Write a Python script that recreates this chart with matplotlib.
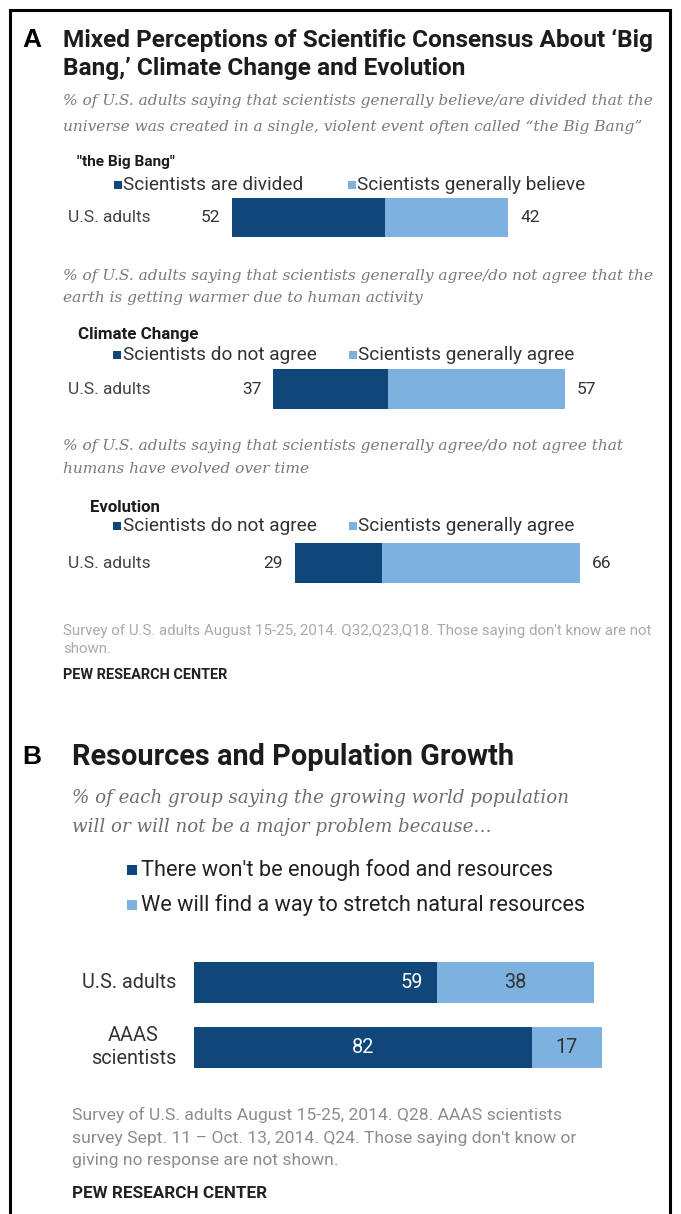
import matplotlib
matplotlib.use("Agg")
import matplotlib.pyplot as plt
from matplotlib.patches import Rectangle
from matplotlib.lines import Line2D

# ---------------- data ----------------
a_group = "U.S. adults"

bigbang_title = "\"the Big Bang\""
bigbang_series = ["Scientists are divided", "Scientists generally believe"]
bigbang_divided = 52
bigbang_believe = 42

climate_title = "Climate Change"
climate_series = ["Scientists do not agree", "Scientists generally agree"]
climate_disagree = 37
climate_agree = 57

evolution_title = "Evolution"
evolution_series = ["Scientists do not agree", "Scientists generally agree"]
evolution_disagree = 29
evolution_agree = 66

b_groups = ["U.S. adults", "AAAS\nscientists"]
b_series = ["There won't be enough food and resources",
            "We will find a way to stretch natural resources"]
b_not_enough = [59, 82]
b_stretch = [38, 17]

# ---------------- style ----------------
W, H = 681, 1214
DARK = "#10477a"
LIGHT = "#7db2e0"
SANS = "Roboto"
SERIF = "DejaVu Serif"
LETTER = "Liberation Sans"

fig = plt.figure(figsize=(W / 100, H / 100), dpi=100)
fig.patch.set_facecolor("white")
R = fig.canvas.get_renderer()


def fx(x):
    return x / W


def fy(y):
    return 1 - y / H


def put(x, y, s, size=10, width=None, **kw):
    kw.setdefault("va", "center")
    t = fig.text(fx(x), fy(y), s, fontsize=size, **kw)
    if width:
        w = t.get_window_extent(renderer=R).width
        t.set_fontsize(size * width / w)
    return t


def para(x, ys, lines, width, **kw):
    t0 = put(x, ys[0], lines[0], width=width, **kw)
    size = t0.get_fontsize()
    for y, s in zip(ys[1:], lines[1:]):
        put(x, y, s, size=size, **kw)
    return size


def square(x, y, color, side=8):
    fig.add_artist(Rectangle((fx(x), fy(y + side / 2)), side / W, side / H,
                             transform=fig.transFigure, color=color, lw=0))


# frame
for xs, ys in [((10, 10), (10, H + 5)), ((10, 670), (10, 10)), ((670, 670), (10, H + 5))]:
    fig.add_artist(Line2D([fx(v) for v in xs], [fy(v) for v in ys],
                          transform=fig.transFigure, color="black", lw=2.2))

# ---------------- panel A ----------------
put(22, 40, "A", size=19, family=LETTER, weight="bold", color="black")
para(63, [40, 68],
     ["Mixed Perceptions of Scientific Consensus About \u2018Big",
      "Bang,\u2019 Climate Change and Evolution"],
     width=592, family=SANS, weight="bold", color="#1c1c1c")

sub_kw = dict(family=SERIF, style="italic", color="#7a7a7a")
para(63, [101, 127],
     ["% of U.S. adults saying that scientists generally believe/are divided that the",
      "universe was created in a single, violent event often called \u201cthe Big Bang\u201d"],
     width=592, **sub_kw)
para(63, [276, 298],
     ["% of U.S. adults saying that scientists generally agree/do not agree that the",
      "earth is getting warmer due to human activity"],
     width=590, **sub_kw)
para(63, [446, 469],
     ["% of U.S. adults saying that scientists generally agree/do not agree that",
      "humans have evolved over time"],
     width=561, **sub_kw)

head_kw = dict(family=SANS, weight="bold", color="#1c1c1c")
put(77, 162, bigbang_title, width=98, **head_kw)
put(78, 334, climate_title, width=121, **head_kw)
put(90, 507, evolution_title, width=70, **head_kw)

leg_size = put(123, 185, bigbang_series[0], width=180, family=SANS, color="#333333").get_fontsize()
leg_kw = dict(size=leg_size, family=SANS, color="#333333")
square(114, 185, DARK)
put(357, 185, bigbang_series[1], **leg_kw)
square(348, 185, LIGHT)
for y, series in [(355, climate_series), (526, evolution_series)]:
    square(113, y, DARK)
    put(123, y, series[0], **leg_kw)
    square(349, y, LIGHT)
    put(358, y, series[1], **leg_kw)

lab_size = put(68, 218, a_group, width=82, family=SANS, color="#444444").get_fontsize()
put(68, 389, a_group, size=lab_size, family=SANS, color="#444444")
put(68, 563, a_group, size=lab_size, family=SANS, color="#444444")


def diverging(top, bottom, center, unit, left_val, right_val):
    L, Rp = 150, 630
    ax = fig.add_axes([fx(L), fy(bottom), (Rp - L) / W, (bottom - top) / H])
    ax.set_xlim((L - center) / unit, (Rp - center) / unit)
    ax.set_ylim(-0.5, 0.5)
    ax.barh(0, -left_val, height=1.0, color=DARK, lw=0)
    ax.barh(0, right_val, height=1.0, color=LIGHT, lw=0)
    ax.annotate(f"{left_val}", xy=(-left_val, 0), xytext=(-12, 0),
                textcoords="offset pixels", ha="right", va="center",
                fontsize=lab_size, family=SANS, color="#333333")
    ax.annotate(f"{right_val}", xy=(right_val, 0), xytext=(12, 0),
                textcoords="offset pixels", ha="left", va="center",
                fontsize=lab_size, family=SANS, color="#333333")
    ax.axis("off")


diverging(198, 237, 385, 2.94, bigbang_divided, bigbang_believe)
diverging(369, 409, 388, 3.1, climate_disagree, climate_agree)
diverging(543, 583, 382, 3.0, evolution_disagree, evolution_agree)

para(63, [631, 649],
     ["Survey of U.S. adults August 15-25, 2014. Q32,Q23,Q18. Those saying don't know are not",
      "shown."],
     width=589, family=SANS, color="#aaaaaa")
put(63, 675, "PEW RESEARCH CENTER", width=165, family=SANS, weight="bold", color="#222222")

# ---------------- panel B ----------------
put(22, 757, "B", size=19, family=LETTER, weight="bold", color="black")
put(72, 757, "Resources and Population Growth", width=441,
    family=SANS, weight="bold", color="#1c1c1c")
para(72, [798, 827],
     ["% of each group saying the growing world population",
      "will or will not be a major problem because\u2026"],
     width=498, family=SERIF, style="italic", color="#6e6e6e")

bleg = put(141, 870, b_series[0], width=412, family=SANS, color="#222222").get_fontsize()
put(141, 905, b_series[1], size=bleg, family=SANS, color="#222222")
square(127, 870, DARK, side=10)
square(127, 905, LIGHT, side=10)

# stacked bars
top, bottom, step, bar_h = 962, 1068, 65, 41
h = bar_h / step
L, Rp, unit = 194, 630, 4.12
axb = fig.add_axes([fx(L), fy(bottom), (Rp - L) / W, (bottom - top) / H])
axb.set_xlim(0, (Rp - L) / unit)
axb.set_ylim(1 + h / 2, -h / 2)
rows = list(range(len(b_groups)))
axb.barh(rows, b_not_enough, height=h, color=DARK, lw=0)
axb.barh(rows, b_stretch, left=b_not_enough, height=h, color=LIGHT, lw=0)
axb.axis("off")

bsize = put(176, 983, b_groups[0], width=94, family=SANS, color="#333333", ha="right").get_fontsize()
put(176, 1047, b_groups[1], size=bsize, family=SANS, color="#333333", ha="right",
    multialignment="center", linespacing=1.25)

dark_anchor = ["end", "center"]
for r, (d, s, anc) in enumerate(zip(b_not_enough, b_stretch, dark_anchor)):
    if anc == "end":
        axb.annotate(f"{d}", xy=(d, r), xytext=(-14, 0), textcoords="offset pixels",
                     ha="right", va="center", fontsize=bsize, family=SANS, color="white")
    else:
        axb.text(d / 2, r, f"{d}", ha="center", va="center",
                 fontsize=bsize, family=SANS, color="white")
    axb.text(d + s / 2, r, f"{s}", ha="center", va="center",
             fontsize=bsize, family=SANS, color="#333333")

para(72, [1115, 1138, 1161],
     ["Survey of U.S. adults August 15-25, 2014. Q28. AAAS scientists",
      "survey Sept. 11 \u2013 Oct. 13, 2014. Q24. Those saying don't know or",
      "giving no response are not shown."],
     width=488, family=SANS, color="#8c8c8c")
put(72, 1193, "PEW RESEARCH CENTER", width=194, family=SANS, weight="bold", color="#222222")

fig.savefig("out.png", dpi=100, facecolor="white")
